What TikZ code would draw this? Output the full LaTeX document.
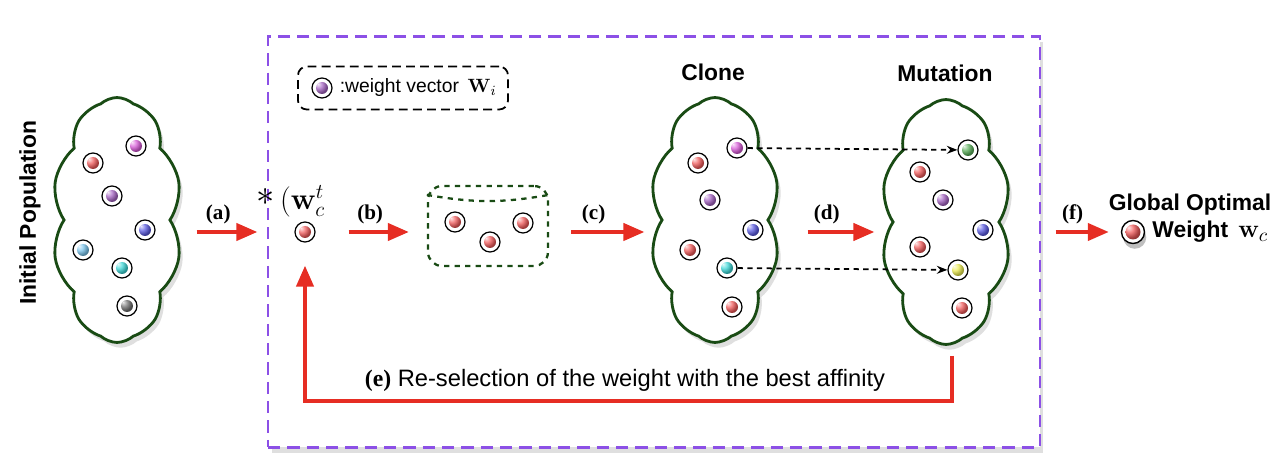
\documentclass[tikz,border=0pt]{standalone}
\usepackage{amsmath}
\usepackage[no-math]{fontspec}
\setmainfont{Liberation Sans}
\newfontfamily\lblfont{Liberation Serif}
\usetikzlibrary{arrows.meta, positioning, shapes.symbols, shadows}

\definecolor{cloudgreen}{RGB}{25,75,20}
\definecolor{framepurple}{RGB}{140,80,230}
\definecolor{arrowred}{RGB}{230,45,35}
\definecolor{wred}{RGB}{240,90,90}
\definecolor{wmag}{RGB}{215,90,215}
\definecolor{wpur}{RGB}{165,100,195}
\definecolor{wblue}{RGB}{90,90,225}
\definecolor{wlblue}{RGB}{120,195,235}
\definecolor{wcyan}{RGB}{60,215,215}
\definecolor{wgray}{RGB}{110,110,110}
\definecolor{wgreen}{RGB}{90,175,90}
\definecolor{wyellow}{RGB}{235,235,80}

\tikzset{
  pop/.style={cloud, cloud puffs=10, cloud puff arc=85, cloud ignores aspect,
    draw=cloudgreen, line width=1.6pt, fill=white,
    drop shadow={opacity=0.25, shadow xshift=2pt, shadow yshift=-3pt},
    minimum width=2.6cm, minimum height=4.9cm},
  wvec/.style={circle, draw=black, line width=0.7pt, fill=white,
    minimum size=0.4cm, inner sep=0pt,
    path picture={\shade[ball color=#1] (path picture bounding box.center) circle (0.12cm);}},
  bestvec/.style={circle, draw=black, line width=0.8pt, fill=white,
    minimum size=0.46cm, inner sep=0pt,
    drop shadow={opacity=0.5, shadow xshift=1pt, shadow yshift=-3pt},
    path picture={\shade[ball color=#1] (path picture bounding box.center) circle (0.15cm);}},
  redarrow/.style={-{Triangle[length=0.42cm, width=0.34cm]}, draw=arrowred, line width=2.3pt},
  poolline/.style={draw=cloudgreen, line width=1.3pt, dash pattern=on 3pt off 3pt},
  steplbl/.style={font=\lblfont\bfseries\fontsize{12}{14}\selectfont, text=black},
  title/.style={font=\bfseries\fontsize{13}{15}\selectfont},
}

\begin{document}
\begin{tikzpicture} [x=0.02cm, y=-0.02cm]

\useasboundingbox (0,0) rectangle (1288,469);

\node (frame) [draw=framepurple, line width=1.6pt, dash pattern=on 7pt off 4pt, fill=white,
  drop shadow={opacity=0.25, shadow xshift=2pt, shadow yshift=-3pt},
  minimum width=15.44cm, minimum height=8.22cm] at (654,242) {};

% legend
\node (key) [draw, rounded corners=5pt, line width=1pt, dash pattern=on 5pt off 3pt,
  minimum width=4.2cm, minimum height=0.86cm] at (403,88) {};
\node (keydot) [wvec=wpur] at (322,88) {};
\node (keytxt) [right=0.02cm of keydot, font=\fontsize{11}{13}\selectfont] {:weight vector \,$\mathbf{W}_i$};

% initial population
\node (initlbl) [title, rotate=90] at (30,213) {Initial Population};
\node (init) [pop] at (117,220) {};
\node (i1) [wvec=wred] at (93,163) {};
\node (i2) [wvec=wmag] at (136,146) {};
\node (i3) [wvec=wpur] at (112,196) {};
\node (i4) [wvec=wblue] at (145,230) {};
\node (i5) [wvec=wlblue] at (83,250) {};
\node (i6) [wvec=wcyan] at (122,268) {};
\node (i7) [wvec=wgray] at (127,306) {};

% current weight
\node (wct) [wvec=wred] at (305,232) {};
\node (wctlbl) at (291,201) {\fontsize{18}{20}\selectfont
  \raisebox{2pt}{\fontsize{21}{21}\selectfont$\ast$}$\,(\mathbf{w}_c^t$};

% selected pool
\node (pool) [draw=cloudgreen, line width=1.3pt, dash pattern=on 3pt off 3pt, rounded corners=8pt,
  minimum width=2.4cm, minimum height=1.6cm] at (488,226) {};
\draw [poolline] ([yshift=-0.2cm]pool.north west) to [bend right=10] ([yshift=-0.2cm]pool.north east);
\node (p1) [wvec=wred] at (455,222) {};
\node (p2) [wvec=wred] at (490,242) {};
\node (p3) [wvec=wred] at (523,223) {};

% clone
\node (clonettl) [title] at (713,72) {Clone};
\node (clone) [pop] at (715,220) {};
\node (c1) [wvec=wred] at (698,163) {};
\node (c2) [wvec=wmag] at (737,148) {};
\node (c3) [wvec=wpur] at (710,200) {};
\node (c4) [wvec=wblue] at (753,230) {};
\node (c5) [wvec=wred] at (690,250) {};
\node (c6) [wvec=wcyan] at (727,268) {};
\node (c7) [wvec=wred] at (732,307) {};

% mutation
\node (mutttl) [title] at (945,73) {Mutation};
\node (mut) [pop] at (946,222) {};
\node (m1) [wvec=wgreen] at (968,150) {};
\node (m2) [wvec=wred] at (920,172) {};
\node (m3) [wvec=wpur] at (943,200) {};
\node (m4) [wvec=wblue] at (983,230) {};
\node (m5) [wvec=wred] at (920,247) {};
\node (m6) [wvec=wyellow] at (958,270) {};
\node (m7) [wvec=wred] at (962,308) {};

% result
\node (best) [bestvec=wred] at (1133,232) {};
\node (bestttl) [title] at (1190,205) {Global Optimal};
\node (bestlbl) [title, right=0.02cm of best] {Weight \,{\fontsize{15}{17}\selectfont$\mathbf{w}_c$}};

\node (relbl) [font=\fontsize{13.5}{16}\selectfont] at (625,380)
  {{\lblfont\bfseries (e)} Re-selection of the weight with the best affinity};

\path [-{Stealth[length=6pt]}, line width=1pt, dash pattern=on 3pt off 2.5pt]
  (c2) edge (m1)
  (c6) edge (m6);

\draw [redarrow, shorten <=0.5cm, shorten >=0.74cm]
  (init.east |- wct) -- node [steplbl, above, pos=0.38] {(a)} (wct.west);
\draw [redarrow, shorten <=0.66cm, shorten >=0.36cm]
  (wct.east) -- node [steplbl, above, pos=0.49] {(b)} (pool.west |- wct);
\draw [redarrow, shorten <=0.44cm, shorten >=0.32cm]
  (pool.east |- wct) -- node [steplbl, above, pos=0.4] {(c)} (clone.west |- wct);
\draw [redarrow, shorten <=0.76cm, shorten >=0.34cm]
  (clone.east |- wct) -- node [steplbl, above, pos=0.47] {(d)} (mut.west |- wct);
\draw [redarrow, shorten <=1.1cm, shorten >=0.24cm]
  (mut.east |- wct) -- node [steplbl, above, pos=0.6] {(f)} (best.west);

\draw [redarrow, shorten >=0.46cm]
  ([xshift=0.12cm, yshift=-0.2cm]mut.south) -- ++(0,45) -| (wct.south);

\end{tikzpicture}
\end{document}
